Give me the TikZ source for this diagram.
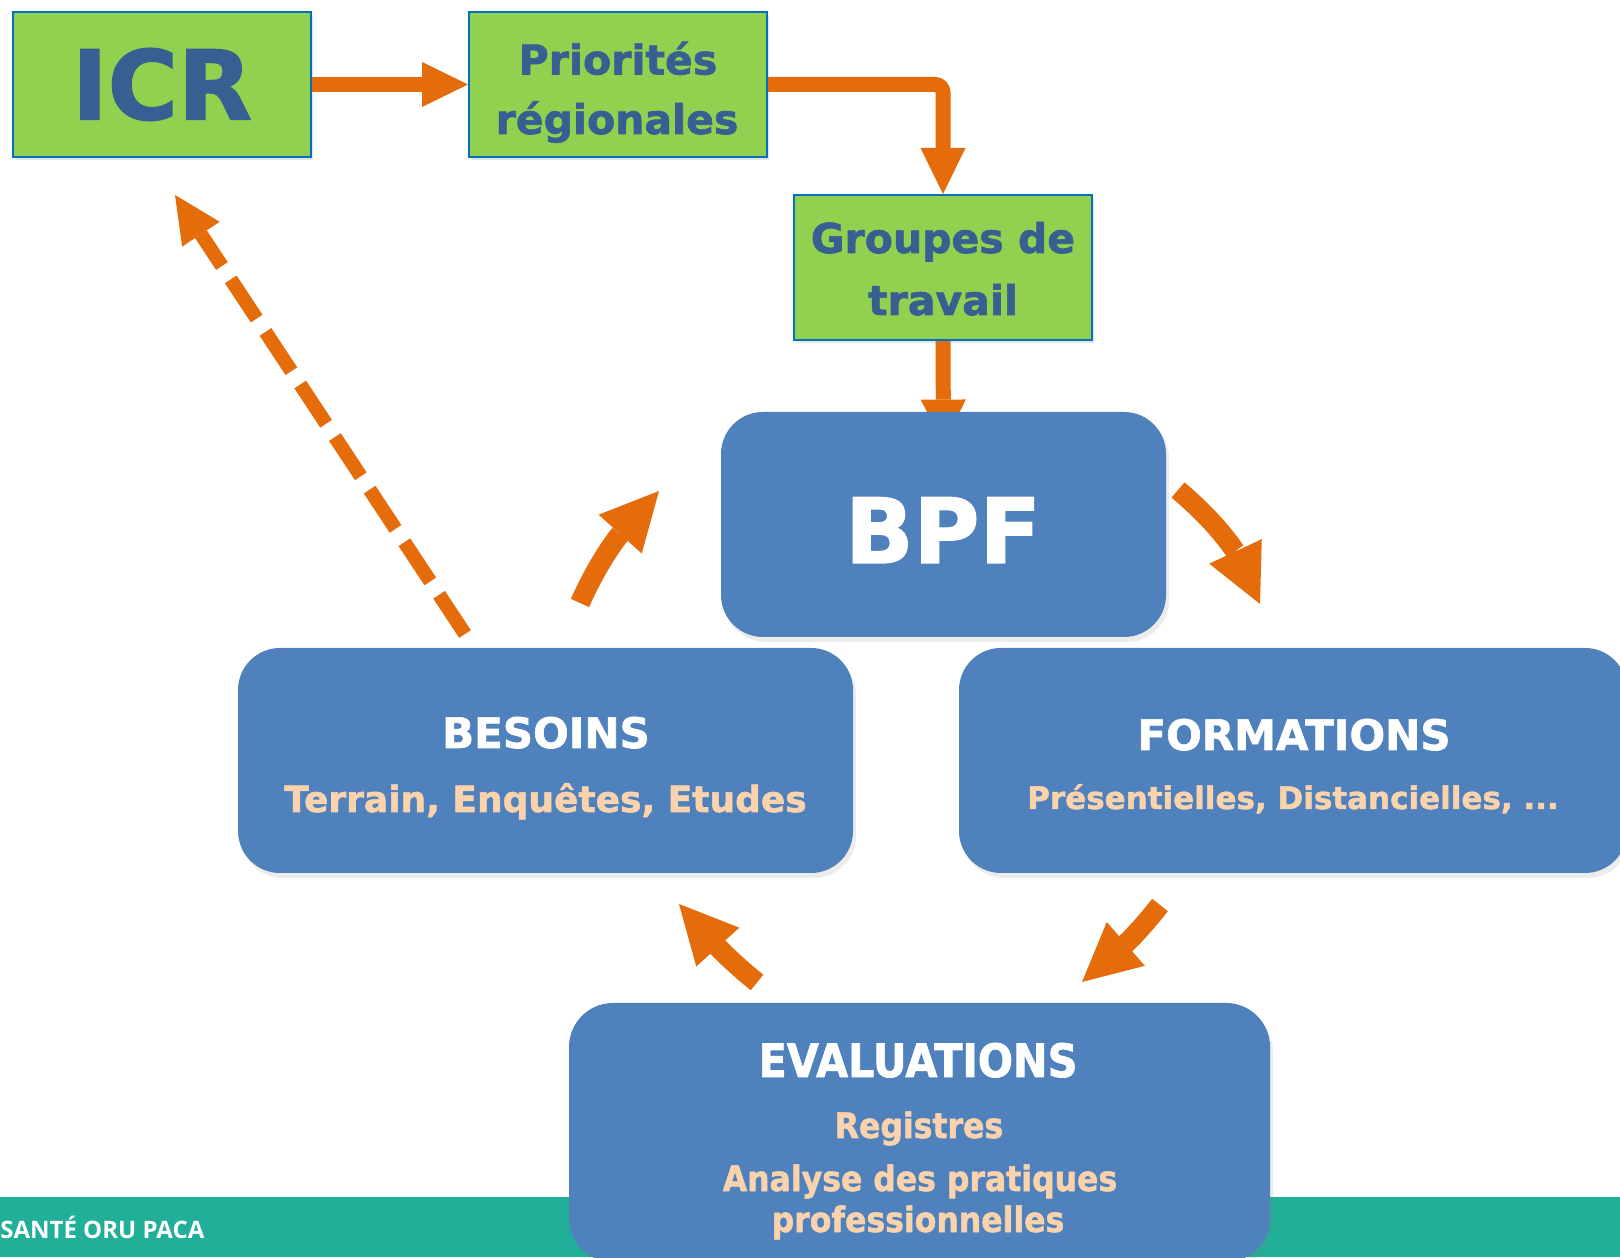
\documentclass[tikz,border=0pt]{standalone}
\usepackage{fontspec}
\setmainfont{DejaVu Sans}
\newfontfamily\heavy[BoldFeatures={FakeBold=1.5}]{DejaVu Sans}
\newfontfamily\heavycond[FakeStretch=0.9,BoldFeatures={FakeBold=1.5}]{DejaVu Sans}
\newfontfamily\footfont{Open Sans}
\usetikzlibrary{arrows.meta,shadows,backgrounds}
\definecolor{grfill}{HTML}{92D050}
\definecolor{bordblue}{HTML}{0070C0}
\definecolor{txtblue}{HTML}{375F92}
\definecolor{boxblue}{HTML}{4F81BD}
\definecolor{arrorange}{HTML}{E46C0A}
\definecolor{peach}{HTML}{FAD2AC}
\definecolor{tealband}{HTML}{21AF99}
\tikzset{
  greenbox/.style={draw=bordblue, line width=1pt, fill=grfill, minimum width=149pt, minimum height=72.5pt, inner sep=0pt,
    drop shadow={opacity=0.2, shadow xshift=1.2pt, shadow yshift=-1.5pt}},
  bluebox/.style={fill=boxblue, rounded corners=21pt, inner sep=0pt, minimum height=112.5pt,
    drop shadow={opacity=0.15, shadow xshift=1.5pt, shadow yshift=-2.5pt}},
  gtxt/.style={text=txtblue, font=\heavy\bfseries\fontsize{20.5}{24}\selectfont, inner sep=0pt, anchor=base},
  wtitle/.style={text=white, font=\heavy\bfseries\fontsize{21}{24}\selectfont, inner sep=0pt, anchor=base},
  psub/.style={text=peach, font=\heavy\bfseries\fontsize{#1}{20}\selectfont, inner sep=0pt, anchor=base},
  etitle/.style={text=white, font=\heavycond\bfseries\fontsize{23}{26}\selectfont, inner sep=0pt, anchor=base},
  esub/.style={text=peach, font=\heavycond\bfseries\fontsize{17.5}{20}\selectfont, inner sep=0pt, anchor=base},
  flow/.style={draw=arrorange, line width=7.5pt, -{Triangle[length=23pt,width=22.5pt,line width=0pt]}},
  dflow/.style={draw=arrorange, line width=7pt, dash pattern=on 23.5pt off 8pt, -{Triangle[length=23.5pt,width=22.5pt,line width=0pt]}},
  cflow/.style={draw=arrorange, line width=10pt, -{Triangle[length=29pt,width=29pt,line width=0pt]}}
}
\begin{document}
\begin{tikzpicture}[x=0.5pt,y=0.5pt]
\useasboundingbox (0,0) rectangle (1620,1257);
\clip (0,0) rectangle (1620,1257);
\fill[tealband] (0,0) rectangle (1620,60);
\node[anchor=base west, text=white, font=\footfont\bfseries\fontsize{12}{14}\selectfont, inner sep=0pt] (foot) at (0,19) {SANTÉ ORU PACA};

% green boxes
\node[greenbox, text=txtblue, font=\heavy\bfseries\fontsize{48}{50}\selectfont] (icr) at (162,1172.5) {ICR};
\node[greenbox] (prio) at (618,1172.5) {};
\node[greenbox] (grp) at (943,989.5) {};
\node[gtxt] (tprio1) at (618,1182.5) {Priorités};
\node[gtxt] (tprio2) at (617,1123) {régionales};
\node[gtxt] (tgrp1) at (943,1004) {Groupes de};
\node[gtxt] (tgrp2) at (943,942) {travail};

% blue boxes
\node[bluebox, minimum width=222.5pt] (bpf) at (943.5,732.5) {};
\node[anchor=base, text=white, font=\heavy\bfseries\fontsize{45}{48}\selectfont, inner sep=0pt] (tbpf) at (943,694) {BPF};
\node[bluebox, minimum width=307.5pt] (besoins) at (545.5,496.5) {};
\node[bluebox, minimum width=334pt] (formations) at (1293,496.5) {};
\node[bluebox, minimum width=350.5pt, minimum height=129.5pt, rounded corners=22pt] (eval) at (919.5,124.5) {};

\node[wtitle] (tbes) at (546,509) {BESOINS};
\node[psub=18] (tbes2) at (545.5,445) {Terrain, Enquêtes, Etudes};
\node[wtitle] (tform) at (1294,507) {FORMATIONS};
\node[psub=15.5] (tform2) at (1293,448) {Présentielles, Distancielles, ...};
\node[etitle] (teval) at (918,180) {EVALUATIONS};
\node[esub] (treg) at (919,119) {Registres};
\node[esub] (tana) at (920,66) {Analyse des pratiques};
\node[esub] (tpro) at (918,25) {professionnelles};

% connectors
\draw[flow] (icr.east) -- (prio.west);
\draw[flow, rounded corners=4pt] (prio.east) -| (grp.north);
\begin{scope}[on background layer]
\fill[white] (0,0) rectangle (1620,1257);
\draw[flow] (grp.south) -- ([yshift=-17pt]bpf.north);
\end{scope}

\coordinate (dS) at (465,623);
\coordinate (dE) at (175,1062);
\draw[dflow] (dS) -- (dE);

\coordinate (c1s) at (580,654);
\coordinate (c1e) at (659,766);
\draw[cflow] (c1s) to[out=66,in=228] (c1e);

\coordinate (c2s) at (1178,767);
\coordinate (c2e) at (1260,653);
\draw[cflow] (c2s) to[out=-40,in=115] (c2e);

\coordinate (c3s) at (1160,352);
\coordinate (c3e) at (1082,275);
\draw[cflow] (c3s) to[out=232,in=41] (c3e);

\coordinate (c4s) at (757,274.5);
\coordinate (c4e) at (679,353);
\draw[cflow] (c4s) to[out=141,in=312] (c4e);
\end{tikzpicture}
\end{document}
